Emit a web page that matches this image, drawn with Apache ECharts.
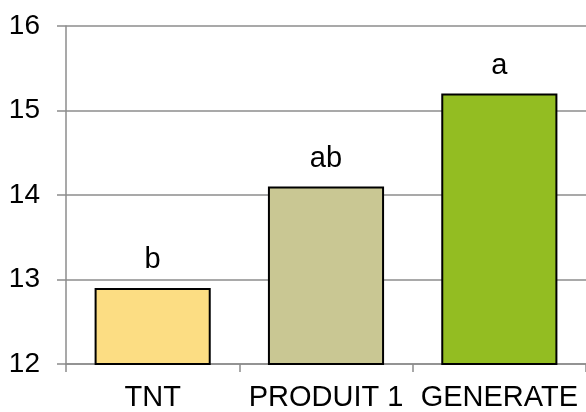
<!DOCTYPE html>
<html>
<head>
<meta charset="utf-8">
<script src="https://cdn.jsdelivr.net/npm/echarts@6/dist/echarts.min.js"></script>
<style>html,body{margin:0;padding:0;background:#fff}#c{width:586px;height:412px}</style>
</head>
<body>
<div id="c"></div>
<script>
const categories = ['TNT', 'PRODUIT 1', 'GENERATE'];
const values = [12.9, 14.1, 15.2];
const letters = ['b', 'ab', 'a'];
const colors = ['#FCDD83', '#C9C793', '#93BD22'];
const yTicks = { min: 12, max: 16, interval: 1 };

const chart = echarts.init(document.getElementById('c'), null, { renderer: 'canvas' });
const gridColor = '#8c8c8c';
chart.setOption({
  animation: false,
  textStyle: { fontFamily: 'Liberation Sans, Arial, sans-serif' },
  grid: { left: 66, right: -2, top: 26, bottom: 45.5, containLabel: false },
  xAxis: {
    type: 'category',
    data: categories,
    axisLine: { show: true, lineStyle: { color: gridColor, width: 1.5 } },
    axisTick: { show: true, length: 8, alignWithLabel: false, lineStyle: { color: gridColor, width: 1.5 } },
    axisLabel: { color: '#000', fontSize: 29, margin: 19, interval: 0 },
    splitLine: { show: false }
  },
  yAxis: {
    type: 'value',
    min: yTicks.min, max: yTicks.max, interval: yTicks.interval,
    axisLine: { show: true, lineStyle: { color: gridColor, width: 1.5 } },
    axisTick: { show: true, length: 9, lineStyle: { color: gridColor, width: 1.5 } },
    axisLabel: { color: '#000', fontSize: 28, margin: 26 },
    splitLine: { show: true, lineStyle: { color: gridColor, width: 1.5 } }
  },
  series: [{
    type: 'bar',
    barCategoryGap: '33%',
    data: values.map((v, i) => ({ value: v, itemStyle: { color: colors[i] } })),
    itemStyle: { borderColor: '#000', borderWidth: 2 },
    label: {
      show: true, position: 'top', distance: 13,
      fontSize: 29, color: '#000',
      formatter: p => letters[p.dataIndex]
    }
  }]
});
</script>
</body>
</html>
